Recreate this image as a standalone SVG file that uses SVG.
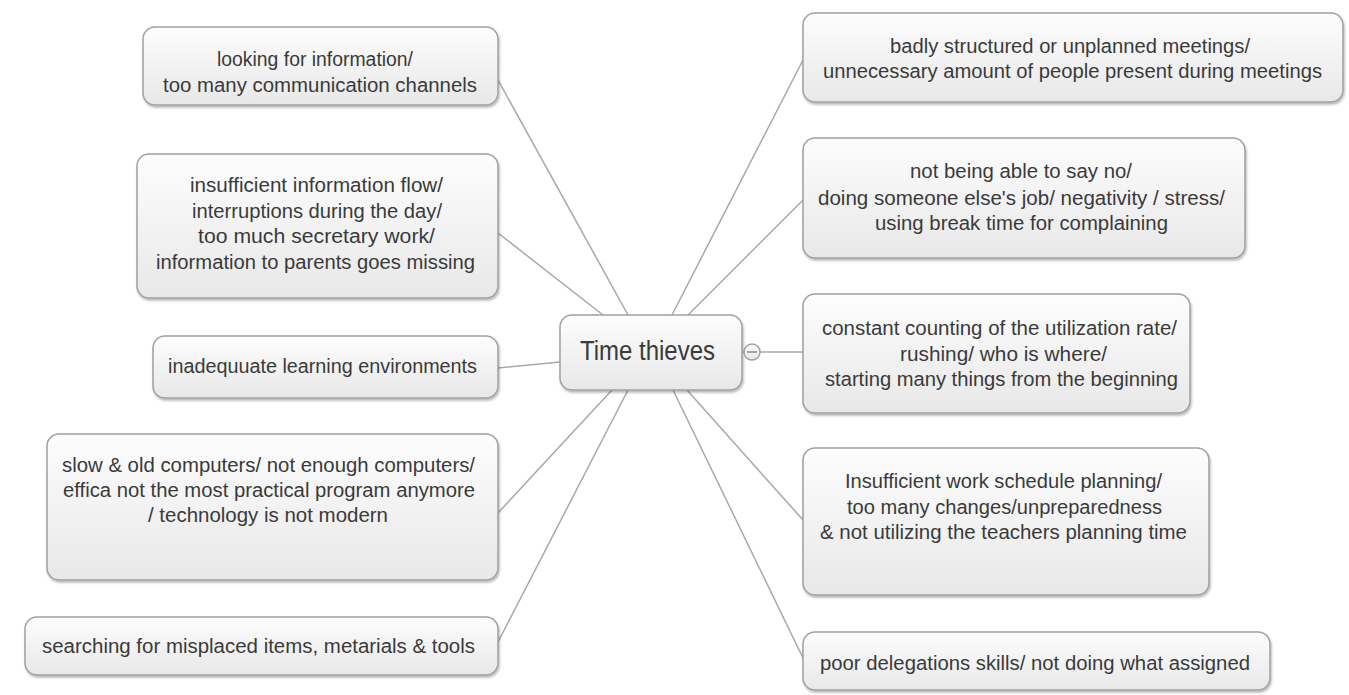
<svg xmlns="http://www.w3.org/2000/svg" width="1349" height="695" viewBox="0 0 1349 695">
<defs>
<linearGradient id="g" x1="0" y1="0" x2="0" y2="1">
<stop offset="0" stop-color="#fdfdfd"/>
<stop offset="1" stop-color="#e8e8e8"/>
</linearGradient>
<filter id="sh" x="-5%" y="-5%" width="110%" height="120%">
<feDropShadow dx="1" dy="2" stdDeviation="1.2" flood-color="#000" flood-opacity="0.28"/>
</filter>
</defs>
<style>
.box{fill:url(#g);stroke:#a0a0a0;stroke-width:1.5;filter:url(#sh)}
.t{font-family:"Liberation Sans",Arial,sans-serif;font-size:20px;fill:#3a3a3a;text-anchor:middle}
.c{stroke:#a8a8a8;stroke-width:1.5;fill:none}
</style>
<rect width="1349" height="695" fill="#ffffff"/>
<g id="connectors">
<line class="c" x1="498" y1="80" x2="628" y2="315"/>
<line class="c" x1="498" y1="233" x2="603" y2="315"/>
<line class="c" x1="498" y1="368" x2="560" y2="362"/>
<line class="c" x1="498" y1="513" x2="612" y2="390"/>
<line class="c" x1="498" y1="642" x2="628" y2="390"/>
<line class="c" x1="803" y1="60" x2="672" y2="315"/>
<line class="c" x1="803" y1="200" x2="688" y2="315"/>
<line class="c" x1="742" y1="352" x2="803" y2="352"/>
<line class="c" x1="803" y1="520" x2="687" y2="390"/>
<line class="c" x1="803" y1="658" x2="673" y2="390"/>
</g>
<g id="center">
<rect class="box" x="560" y="315" width="182" height="75" rx="12"/>
<text class="t" x="647.5" y="360" style="font-size:27px" textLength="135" lengthAdjust="spacingAndGlyphs">Time thieves</text>
<circle cx="752" cy="352" r="8" fill="url(#g)" stroke="#a0a0a0" stroke-width="1.5"/>
<line x1="747" y1="352" x2="757" y2="352" stroke="#8a8a8a" stroke-width="1.5"/>
</g>
<g id="n-looking">
<rect class="box" x="143" y="27" width="355" height="78" rx="12"/>
<text class="t" x="315" y="66" textLength="196" lengthAdjust="spacingAndGlyphs">looking for information/</text>
<text class="t" x="320" y="92" textLength="314" lengthAdjust="spacingAndGlyphs">too many communication channels</text>
</g>
<g id="n-insufficient-info">
<rect class="box" x="137" y="154" width="361" height="144" rx="12"/>
<text class="t" x="316.5" y="192" textLength="253" lengthAdjust="spacingAndGlyphs">insufficient information flow/</text>
<text class="t" x="317" y="218" textLength="250" lengthAdjust="spacingAndGlyphs">interruptions during the day/</text>
<text class="t" x="316.5" y="243" textLength="237" lengthAdjust="spacingAndGlyphs">too much secretary work/</text>
<text class="t" x="315.5" y="269" textLength="319" lengthAdjust="spacingAndGlyphs">information to parents goes missing</text>
</g>
<g id="n-inadequate">
<rect class="box" x="153" y="336" width="345" height="62" rx="12"/>
<text class="t" x="322.5" y="373" textLength="309" lengthAdjust="spacingAndGlyphs">inadequuate learning environments</text>
</g>
<g id="n-computers">
<rect class="box" x="47" y="434" width="451" height="146" rx="12"/>
<text class="t" x="268.5" y="472" textLength="413" lengthAdjust="spacingAndGlyphs">slow &amp; old computers/ not enough computers/</text>
<text class="t" x="269" y="497" textLength="412" lengthAdjust="spacingAndGlyphs">effica not the most practical program anymore</text>
<text class="t" x="268" y="522" textLength="240" lengthAdjust="spacingAndGlyphs">/ technology is not modern</text>
</g>
<g id="n-searching">
<rect class="box" x="25" y="617" width="473" height="58" rx="12"/>
<text class="t" x="258.5" y="653" textLength="433" lengthAdjust="spacingAndGlyphs">searching for misplaced items, metarials &amp; tools</text>
</g>
<g id="n-meetings">
<rect class="box" x="803" y="13" width="540" height="89" rx="12"/>
<text class="t" x="1070" y="53" textLength="360" lengthAdjust="spacingAndGlyphs">badly structured or unplanned meetings/</text>
<text class="t" x="1072.5" y="78" textLength="499" lengthAdjust="spacingAndGlyphs">unnecessary amount of people present during meetings</text>
</g>
<g id="n-say-no">
<rect class="box" x="803" y="138" width="442" height="120" rx="12"/>
<text class="t" x="1021" y="178" textLength="222" lengthAdjust="spacingAndGlyphs">not being able to say no/</text>
<text class="t" x="1021.5" y="205" textLength="407" lengthAdjust="spacingAndGlyphs">doing someone else's job/ negativity / stress/</text>
<text class="t" x="1021.5" y="230" textLength="293" lengthAdjust="spacingAndGlyphs">using break time for complaining</text>
</g>
<g id="n-counting">
<rect class="box" x="803" y="294" width="387" height="119" rx="12"/>
<text class="t" x="999.5" y="335" textLength="355" lengthAdjust="spacingAndGlyphs">constant counting of the utilization rate/</text>
<text class="t" x="1003.5" y="361" textLength="207" lengthAdjust="spacingAndGlyphs">rushing/ who is where/</text>
<text class="t" x="1001.5" y="386" textLength="353" lengthAdjust="spacingAndGlyphs">starting many things from the beginning</text>
</g>
<g id="n-schedule">
<rect class="box" x="803" y="448" width="406" height="147" rx="12"/>
<text class="t" x="1003.5" y="488" textLength="317" lengthAdjust="spacingAndGlyphs">Insufficient work schedule planning/</text>
<text class="t" x="1004.5" y="514" textLength="315" lengthAdjust="spacingAndGlyphs">too many changes/unpreparedness</text>
<text class="t" x="1003.5" y="539" textLength="367" lengthAdjust="spacingAndGlyphs">&amp; not utilizing the teachers planning time</text>
</g>
<g id="n-delegation">
<rect class="box" x="803" y="632" width="467" height="58" rx="12"/>
<text class="t" x="1035" y="670" textLength="430" lengthAdjust="spacingAndGlyphs">poor delegations skills/ not doing what assigned</text>
</g>
</svg>
